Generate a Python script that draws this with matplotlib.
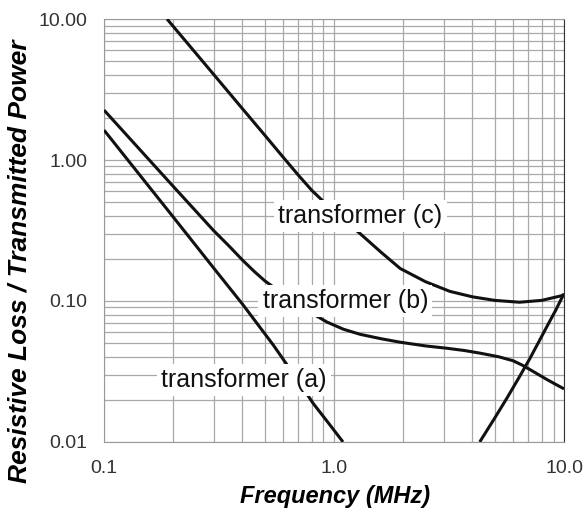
import matplotlib.pyplot as plt
from matplotlib.ticker import FixedLocator, NullFormatter, LogLocator

plt.rcParams['font.family'] = ['Liberation Sans', 'DejaVu Sans']

# Loss curves read as (frequency in MHz, resistive loss / transmitted power)
freq_a = [0.1, 0.15, 0.2, 0.3, 0.4, 0.543, 0.7, 0.811, 0.95, 1.094]
loss_a = [1.63, 0.71, 0.394, 0.171, 0.095, 0.049, 0.027, 0.0188, 0.0135, 0.01]

freq_b = [0.1, 0.15, 0.2, 0.3, 0.35, 0.4, 0.45, 0.5, 0.6, 0.7, 0.8, 0.93, 1.1,
          1.3, 1.6, 1.94, 2.5, 3.1, 3.7, 4.3, 5.2, 6.0, 6.6, 7.3, 8.5, 10.0]
loss_b = [2.26, 1.09, 0.65, 0.315, 0.245, 0.195, 0.162, 0.139, 0.112, 0.095,
          0.082, 0.071, 0.063, 0.058, 0.054, 0.051, 0.048, 0.0462, 0.0445,
          0.0427, 0.0402, 0.0377, 0.0350, 0.0318, 0.0275, 0.0238]

freq_c = [0.188, 0.3, 0.4, 0.5, 0.6, 0.7, 0.8, 1.0, 1.3, 1.6, 1.94, 2.5, 3.19,
          4.0, 5.0, 6.4, 8.0, 10.0]
loss_c = [10.0, 4.04, 2.31, 1.50, 1.05, 0.78, 0.61, 0.43, 0.30, 0.222, 0.170,
          0.137, 0.117, 0.107, 0.101, 0.098, 0.101, 0.110]

freq_d = [4.3, 5.0, 5.65, 6.4, 7.1, 7.8, 8.43, 9.2, 10.0]
loss_d = [0.01, 0.0148, 0.0205, 0.029, 0.039, 0.052, 0.066, 0.086, 0.113]

x_ticks = [0.1, 1.0, 10.0]
x_labels = ['0.1', '1.0', '10.0']
y_ticks = [0.01, 0.1, 1.0, 10.0]
y_labels = ['0.01', '0.10', '1.00', '10.00']

curve_labels = ['transformer (c)', 'transformer (b)', 'transformer (a)']
label_pos = [(1.30, 0.40), (1.12, 0.100), (0.407, 0.0275)]

fig = plt.figure(figsize=(5.86, 5.08), dpi=100)
ax = fig.add_axes([0.1775, 0.130, 0.785, 0.8325])

for f, l in [(freq_a, loss_a), (freq_b, loss_b), (freq_c, loss_c), (freq_d, loss_d)]:
    ax.plot(f, l, color='#111111', lw=2.2, solid_capstyle='butt',
            solid_joinstyle='round', zorder=3)

ax.set_xscale('log')
ax.set_yscale('log')
ax.set_xlim(0.1, 10)
ax.set_ylim(0.01, 10)

ax.xaxis.set_major_locator(FixedLocator(x_ticks))
ax.set_xticklabels(x_labels)
ax.yaxis.set_major_locator(FixedLocator(y_ticks))
ax.set_yticklabels(y_labels)
ax.xaxis.set_minor_locator(LogLocator(base=10, subs=range(2, 10)))
ax.yaxis.set_minor_locator(LogLocator(base=10, subs=range(2, 10)))
ax.xaxis.set_minor_formatter(NullFormatter())
ax.yaxis.set_minor_formatter(NullFormatter())

ax.grid(True, which='both', color='#a8a8a8', lw=0.9)
ax.tick_params(which='both', length=0, labelsize=14, labelcolor='#333333')
ax.tick_params(axis='y', pad=12)
ax.tick_params(axis='x', pad=13)

for side in ['left', 'bottom', 'top']:
    ax.spines[side].set_color('#999999')
ax.spines['right'].set_color('#333333')

for text, (x, y) in zip(curve_labels, label_pos):
    ax.text(x, y, text, fontsize=18, ha='center', va='center', color='#111111',
            bbox=dict(facecolor='white', edgecolor='none', pad=3), zorder=5)

fig.text(0.572, 0.009, 'Frequency (MHz)', fontsize=17, fontweight='bold',
         fontstyle='italic', ha='center', va='baseline')
fig.text(0.033, 0.485, 'Resistive Loss / Transmitted Power', fontsize=19,
         fontweight='bold', fontstyle='italic', rotation=90, ha='center', va='center')

fig.savefig('out.png', dpi=100)
